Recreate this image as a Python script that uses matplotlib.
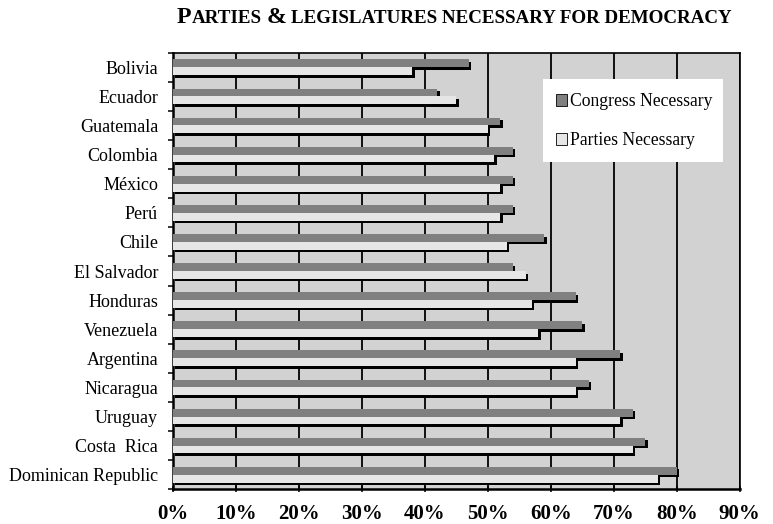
import matplotlib
matplotlib.use("Agg")
import matplotlib.pyplot as plt
import matplotlib.patheffects as pe
from matplotlib.patches import Patch
import numpy as np

countries = ["Bolivia", "Ecuador", "Guatemala", "Colombia", "México", "Perú",
             "Chile", "El Salvador", "Honduras", "Venezuela", "Argentina",
             "Nicaragua", "Uruguay", "Costa  Rica", "Dominican Republic"]
congress_necessary = [47, 42, 52, 54, 54, 54, 59, 54, 64, 65, 71, 66, 73, 75, 80]
parties_necessary = [38, 45, 50, 51, 52, 52, 53, 56, 57, 58, 64, 64, 71, 73, 77]
series_labels = ["Congress Necessary", "Parties Necessary"]
x_ticks = [0, 10, 20, 30, 40, 50, 60, 70, 80, 90]
x_tick_labels = [f"{v}%" for v in x_ticks]

SERIF = ["Liberation Serif", "DejaVu Serif"]
W, H = 773, 524
fig = plt.figure(figsize=(W / 100, H / 100), dpi=100)
fig.patch.set_facecolor("white")
ax = fig.add_axes([172.7 / W, 1 - 489.3 / H, 567 / W, 436.6 / H])
ax.set_facecolor("#d2d2d2")

y = np.arange(len(countries))
bar_h = 0.27
shadow = [pe.SimplePatchShadow(offset=(1.8, -1.8), shadow_rgbFace="black", alpha=1.0),
          pe.Normal()]
b1 = ax.barh(y - bar_h / 2, congress_necessary, height=bar_h, color="#808080",
             linewidth=0, zorder=3)
b2 = ax.barh(y + bar_h / 2, parties_necessary, height=bar_h, color="#e6e6e6",
             linewidth=0, zorder=3)
for p in list(b1) + list(b2):
    p.set_path_effects(shadow)

ax.set_xlim(0, 90)
ax.set_ylim(len(countries) - 0.5, -0.5)

# vertical gridlines
ax.set_xticks(x_ticks)
ax.set_xticklabels(x_tick_labels, fontfamily=SERIF, fontweight="bold", fontsize=15)
ax.xaxis.grid(True, color="black", linewidth=1.3)
ax.set_axisbelow(True)
ax.tick_params(axis="x", direction="inout", length=4.5, width=1.1, pad=8)

# category labels at row centres, tick marks at row boundaries
ax.set_yticks(y)
ax.set_yticklabels(countries, fontfamily=SERIF, fontsize=13)
ax.tick_params(axis="y", which="major", length=0, pad=10.5)
ax.set_yticks(np.arange(len(countries) + 1) - 0.5, minor=True)
ax.tick_params(axis="y", which="minor", direction="out", length=3.6, width=1.1)

for side, lw in (("left", 1.8), ("bottom", 1.8), ("top", 1.2), ("right", 1.2)):
    ax.spines[side].set_linewidth(lw)
    ax.spines[side].set_color("black")

# legend on a white panel
ax.add_patch(plt.Rectangle((0.6536, 0.750), 0.3164, 0.190, transform=ax.transAxes,
                           facecolor="white", edgecolor="none", zorder=5))
handles = [Patch(facecolor="#808080", edgecolor="black", linewidth=0.6),
           Patch(facecolor="#e6e6e6", edgecolor="black", linewidth=0.6)]
leg = ax.legend(handles, series_labels, loc="center left",
                bbox_to_anchor=(0.676, 0.843), frameon=False, borderpad=0,
                borderaxespad=0, labelspacing=1.25, handlelength=0.6,
                handleheight=0.6, handletextpad=0.2,
                prop={"family": SERIF, "size": 12.7})
leg.set_zorder(6)

# small-caps style title built from pieces
fig.canvas.draw()
r = fig.canvas.get_renderer()
big, small = 17.2, 13.7
pieces = [("P", big), ("ARTIES", small), (None, small), ("&", big), (None, small),
          ("LEGISLATURES NECESSARY FOR DEMOCRACY", small)]
x = 177.0
base = 1 - 23.0 / H
for txt, size in pieces:
    if txt is None:
        x += 0.25 * size * 100 / 72
        continue
    t = fig.text(x / W, base, txt, fontsize=size, fontweight="bold",
                 fontfamily=SERIF, va="baseline", ha="left")
    bb = t.get_window_extent(renderer=r)
    x = bb.x1

fig.savefig("out.png", dpi=100)
